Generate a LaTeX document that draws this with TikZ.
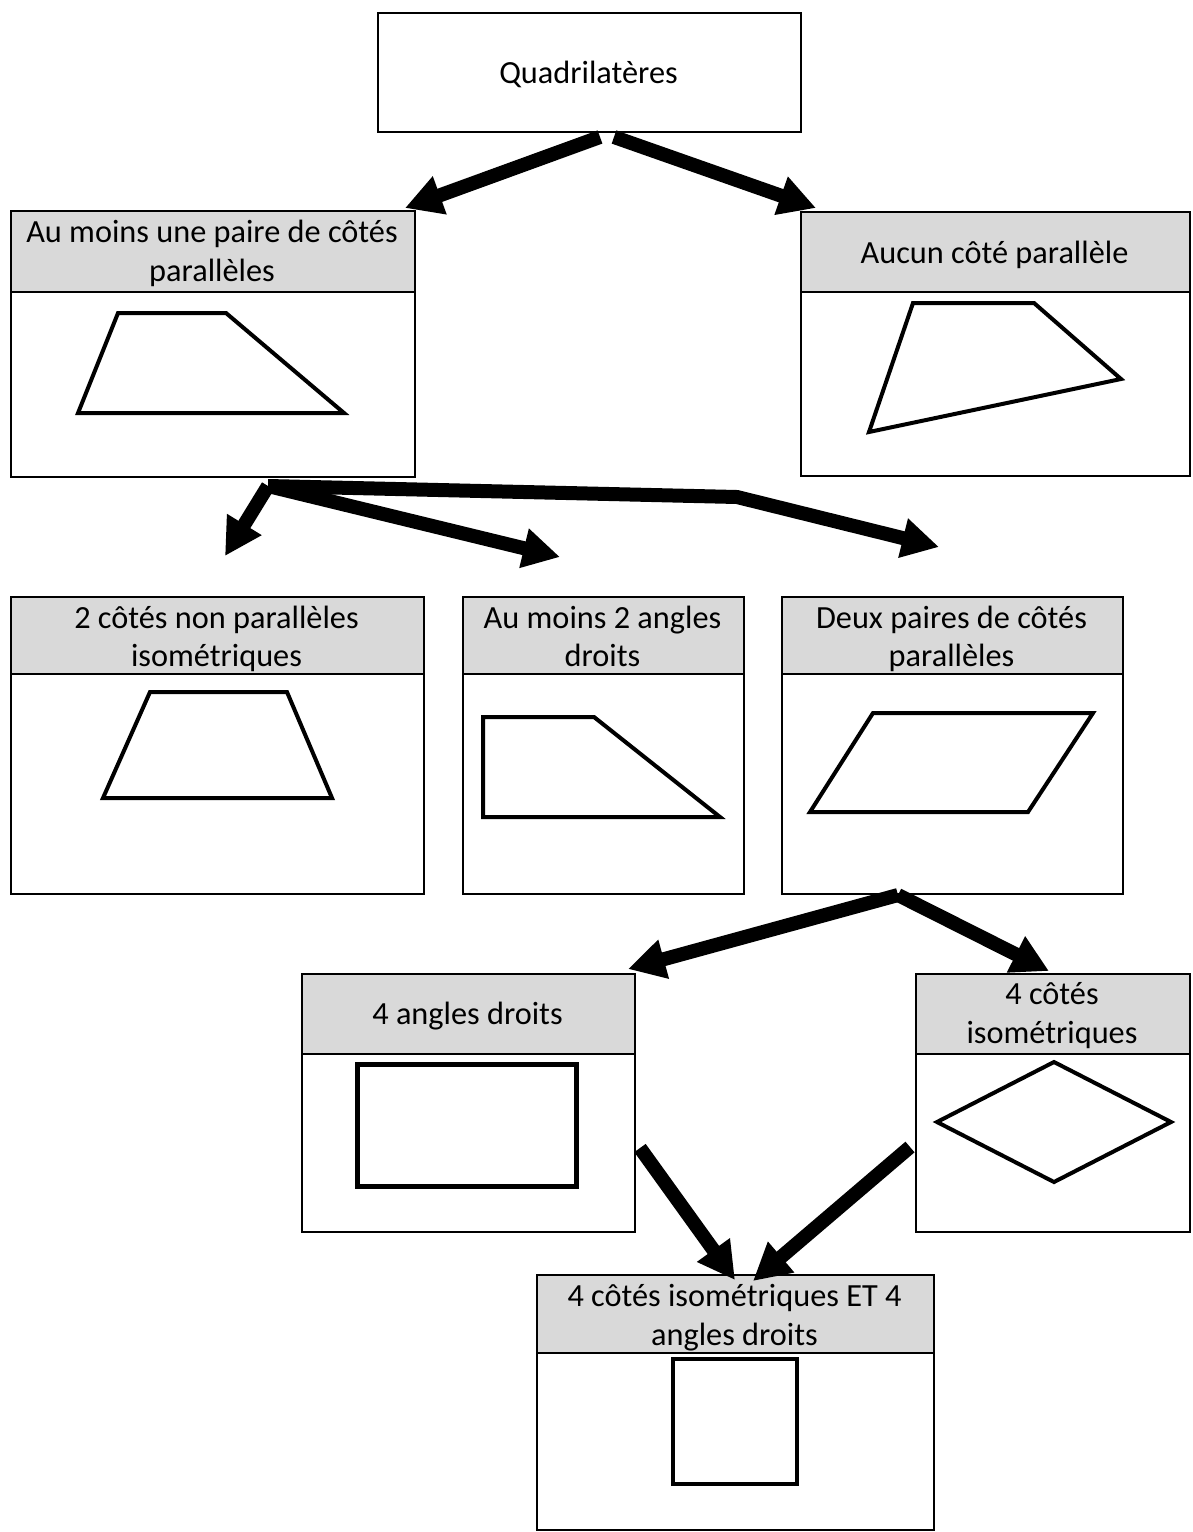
\documentclass[tikz,border=0pt]{standalone}
\usepackage{fontspec}
\setmainfont{Carlito}
\usetikzlibrary{arrows.meta,calc}
\definecolor{hdr}{HTML}{D9D9D9}
\begin{document}
\begin{tikzpicture}[x=1pt,y=-1pt,
  box/.style={draw=black, line width=2pt, inner sep=0pt, anchor=north west},
  hdrbox/.style={draw=black, line width=2pt, fill=hdr, inner sep=0pt, anchor=north west},
  lbl/.style={font=\fontsize{32.3}{38.5}\selectfont, align=center, inner sep=0pt, anchor=base},
  quad/.style={line width=4pt, line join=miter},
  bigarrow/.style={line width=14pt, -{Triangle[length=37pt,width=38pt]}}]
\useasboundingbox[fill=white] (0,0) rectangle (1193,1532);

% top box
\node[box, minimum width=423pt, minimum height=119pt] (b0) at (377,12) {};
\node[lbl] (t0) at (588.5,83) {Quadrilatères};

% box 1
\node[hdrbox, minimum width=404pt, minimum height=81pt] (h1) at (10,210) {};
\node[box, minimum width=404pt, minimum height=266pt] (b1) at (10,210) {};
\node[lbl] (t1) at (212,281) {Au moins une paire de côtés\\parallèles};
\draw[quad] (118,313) -- (226,313) -- (344,413) -- (78,413) -- cycle;

% box 2
\node[hdrbox, minimum width=389pt, minimum height=80pt] (h2) at (800,211) {};
\node[box, minimum width=389pt, minimum height=264pt] (b2) at (800,211) {};
\node[lbl] (t2) at (994.5,263) {Aucun côté parallèle};
\draw[quad] (913,303) -- (1034,303) -- (1121,379) -- (869,432) -- cycle;

% box 3
\node[hdrbox, minimum width=413pt, minimum height=77pt] (h3) at (10,596) {};
\node[box, minimum width=413pt, minimum height=297pt] (b3) at (10,596) {};
\node[lbl] (t3) at (216.5,666.5) {2 côtés non parallèles\\isométriques};
\draw[quad] (150,692) -- (287,692) -- (332,798) -- (103,798) -- cycle;

% box 4
\node[hdrbox, minimum width=281pt, minimum height=77pt] (h4) at (462,596) {};
\node[box, minimum width=281pt, minimum height=297pt] (b4) at (462,596) {};
\node[lbl] (t4) at (602.5,666.5) {Au moins 2 angles\\droits};
\draw[quad] (483,717) -- (594,717) -- (720,817) -- (483,817) -- cycle;

% box 5
\node[hdrbox, minimum width=341pt, minimum height=77pt] (h5) at (781,596) {};
\node[box, minimum width=341pt, minimum height=297pt] (b5) at (781,596) {};
\node[lbl] (t5) at (951.5,666.5) {Deux paires de côtés\\parallèles};
\draw[quad] (873,713) -- (1093,713) -- (1028,812) -- (810,812) -- cycle;

% box 6
\node[hdrbox, minimum width=333pt, minimum height=80pt] (h6) at (301,973) {};
\node[box, minimum width=333pt, minimum height=258pt] (b6) at (301,973) {};
\node[lbl] (t6) at (467.5,1024) {4 angles droits};
\draw[quad, line width=5pt] (357,1064) rectangle (576,1186);

% box 7
\node[hdrbox, minimum width=274pt, minimum height=80pt] (h7) at (915,973) {};
\node[box, minimum width=274pt, minimum height=258pt] (b7) at (915,973) {};
\node[lbl] (t7) at (1052,1043) {4 côtés\\isométriques};
\draw[quad] (1054,1062) -- (1171,1122) -- (1054,1182) -- (937,1122) -- cycle;

% box 8
\node[hdrbox, minimum width=397pt, minimum height=78pt] (h8) at (536,1274) {};
\node[box, minimum width=397pt, minimum height=255pt] (b8) at (536,1274) {};
\node[lbl] (t8) at (734.5,1345) {4 côtés isométriques ET 4\\angles droits};
\draw[quad] (673,1359) rectangle (797,1484);

% arrow coordinates
\coordinate (s1) at (600,137);
\coordinate (e1) at (405,208);
\coordinate (s2) at (614,137);
\coordinate (e2) at (816,208);
\coordinate (s3) at (268,486);
\coordinate (e3) at (225,556);
\coordinate (e4) at (560,557);
\coordinate (k5) at (737,497);
\coordinate (e5) at (939,547);
\coordinate (s6) at (898,895);
\coordinate (e6) at (628,969);
\coordinate (e7) at (1049,971);
\coordinate (s8) at (640,1148);
\coordinate (e8) at (735,1280);
\coordinate (s9) at (910,1147);
\coordinate (e9) at (753,1281);

\draw[bigarrow] (s1) -- (e1);
\draw[bigarrow] (s2) -- (e2);
\draw[bigarrow] (s3) -- (e3);
\draw[bigarrow] (s3) -- (e4);
\draw[bigarrow] (s3) -- (k5) -- (e5);
\draw[bigarrow] (s6) -- (e6);
\draw[bigarrow] (s6) -- (e7);
\draw[bigarrow] (s8) -- (e8);
\draw[bigarrow] (s9) -- (e9);
\end{tikzpicture}
\end{document}
